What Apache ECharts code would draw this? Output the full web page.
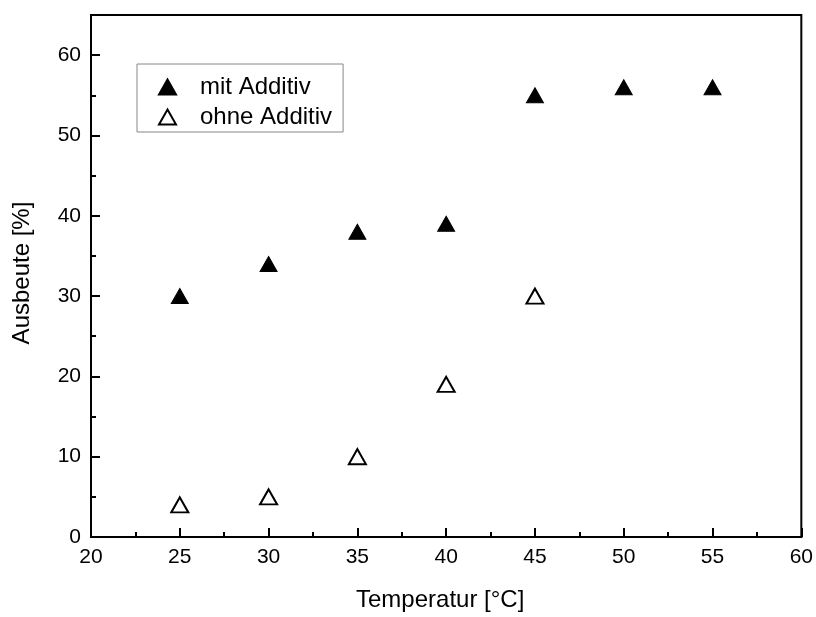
<!DOCTYPE html>
<html>
<head>
<meta charset="utf-8">
<script src="https://cdn.jsdelivr.net/npm/echarts@6/dist/echarts.min.js"></script>
<style>
html,body{margin:0;padding:0;background:#fff;}
#chart{width:816px;height:617px;}
</style>
</head>
<body>
<div id="chart"></div>
<script>
const temperatures = [25, 30, 35, 40, 45, 50, 55];
const mitAdditiv = [30, 34, 38, 39, 55, 56, 56];
const ohneTemperatures = [25, 30, 35, 40, 45];
const ohneAdditiv = [4, 5, 10, 19, 30];
const seriesNames = ['mit Additiv', 'ohne Additiv'];
const xTitle = 'Temperatur [°C]';
const yTitle = 'Ausbeute [%]';

const font = 'Arial, "Liberation Sans", sans-serif';
const chart = echarts.init(document.getElementById('chart'), null, {renderer: 'canvas'});

const axisLine = {show: true, lineStyle: {color: '#000', width: 2}};

chart.setOption({
  animation: false,
  backgroundColor: '#fff',
  grid: {left: 91, right: 14, top: 15, bottom: 78, show: true, borderColor: '#000', borderWidth: 2, containLabel: false},
  legend: {
    left: 137, top: 64,
    orient: 'vertical',
    data: seriesNames,
    itemWidth: 17, itemHeight: 15,
    itemGap: 4,
    symbolKeepAspect: false,
    padding: [10, 11, 2, 21],
    borderColor: '#888', borderWidth: 1,
    textStyle: {fontFamily: font, fontSize: 24, color: '#000', lineHeight: 26, padding: [0, 0, 0, 19]}
  },
  xAxis: [{
    type: 'value', min: 20, max: 60, interval: 5,
    name: xTitle, nameLocation: 'middle', nameGap: 51,
    nameTextStyle: {fontFamily: font, fontSize: 24, color: '#000', padding: [0, 12, 0, 0]},
    axisLine: axisLine,
    axisTick: {show: true, inside: true, length: 9, lineStyle: {color: '#000', width: 2}},
    minorTick: {show: true, splitNumber: 2, length: 5, lineStyle: {color: '#000', width: 2}},
    axisLabel: {fontFamily: font, fontSize: 21, color: '#000', margin: 10},
    splitLine: {show: false}
  }],
  yAxis: [{
    type: 'value', min: 0, max: 65, interval: 10,
    name: yTitle, nameLocation: 'middle', nameGap: 57,
    nameTextStyle: {fontFamily: font, fontSize: 24, color: '#000', padding: [0, 0, 0, 6]},
    axisLine: axisLine,
    axisTick: {show: true, inside: true, length: 9, lineStyle: {color: '#000', width: 2}},
    axisLabel: {fontFamily: font, fontSize: 21, color: '#000', margin: 10, showMaxLabel: false},
    splitLine: {show: false}
  }, {
    type: 'value', min: 0, max: 65, interval: 5, position: 'left',
    axisLine: {show: false},
    axisTick: {show: true, inside: true, length: 5, lineStyle: {color: '#000', width: 2}},
    axisLabel: {show: false},
    splitLine: {show: false}
  }],
  series: [{
    name: seriesNames[0],
    type: 'scatter',
    symbol: 'triangle',
    symbolSize: [17, 15],
    itemStyle: {color: '#000', borderColor: '#000', borderWidth: 1, opacity: 1},
    data: temperatures.map((t, i) => [t, mitAdditiv[i]])
  }, {
    name: seriesNames[1],
    type: 'scatter',
    symbol: 'triangle',
    symbolSize: [17, 15],
    itemStyle: {color: '#fff', borderColor: '#000', borderWidth: 2, opacity: 1},
    data: ohneTemperatures.map((t, i) => [t, ohneAdditiv[i]])
  }]
});
</script>
</body>
</html>
